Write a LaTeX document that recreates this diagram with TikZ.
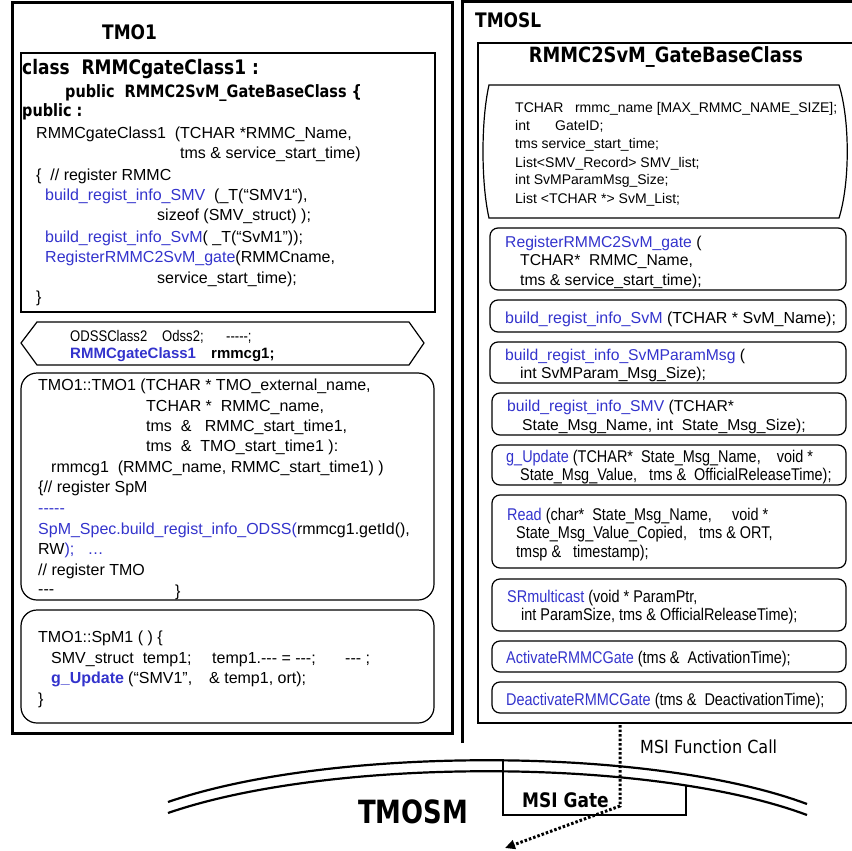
\documentclass[tikz,border=0pt]{standalone}
\usepackage{fontspec}
\setmainfont{Liberation Sans}
\newfontfamily\nfont{Liberation Sans}[FakeStretch=0.85]
\newfontfamily\hdfont{DejaVu Sans}[FakeStretch=0.85]
\newfontfamily\tmfont{DejaVu Sans}[FakeStretch=0.81]
\newfontfamily\nrfont{DejaVu Sans}[FakeStretch=0.89]
\usetikzlibrary{arrows.meta}
\definecolor{codeblue}{RGB}{51,51,204}
\newcommand\bl[1]{\textcolor{codeblue}{#1}}
\tikzset{
  txt/.style={anchor=base west, inner sep=0pt, font=\fontsize{16}{19}\selectfont},
  rtxt/.style={anchor=base west, inner sep=0pt, font=\fontsize{15.7}{18}\selectfont},
  ntxt/.style={anchor=base west, inner sep=0pt, font=\nfont\fontsize{17}{19}\selectfont},
  atxt/.style={anchor=base west, inner sep=0pt, font=\fontsize{14}{17}\selectfont},
  xtxt/.style={anchor=base west, inner sep=0pt, font=\nfont\fontsize{15.4}{17}\selectfont},
  hd/.style={anchor=base west, inner sep=0pt, font=\hdfont\bfseries\fontsize{20}{24}\selectfont},
  hdm/.style={anchor=base west, inner sep=0pt, font=\hdfont\bfseries\fontsize{17}{20}\selectfont},
  thickbox/.style={line width=3pt},
  midbox/.style={line width=2pt},
  thinbox/.style={line width=1.2pt},
  roundbox/.style={line width=1.2pt, rounded corners=16pt},
  mbox/.style={line width=1.2pt, rounded corners=8pt},
  curve/.style={line width=2.2pt},
  dotline/.style={line width=3pt, dash pattern=on 2.5pt off 2pt, -{Triangle[length=10pt,width=9pt]}},
}
\begin{document}
\begin{tikzpicture}[x=1pt,y=-1pt]
\useasboundingbox (0,0) rectangle (852,851);
% ---------- outer frames ----------
\draw[thickbox] (12,3) rectangle (452,733);
\draw[thickbox] (462,743) -- (462,2) -- (853,2);
\draw[midbox] (853,43) -- (478,43) -- (478,723) -- (853,723);
% ---------- TMO1 ----------
\node[hd] (tmo1) at (102,40) {TMO1};
\draw[midbox] (21,53) rectangle (435,312);
\node[hd] (c0) at (22,75) {class\ \ RMMCgateClass1 :};
\node[hdm] (c0b) at (65,97) {public\ \ RMMC2SvM\_GateBaseClass \{};
\node[hdm] (c0c) at (22,117) {public :};
\node[txt] (c1) at (36,138) {RMMCgateClass1\ \ (TCHAR *RMMC\_Name,};
\node[txt] (c2) at (180,158) {tms \& service\_start\_time)};
\node[txt] (c3) at (36,180) {\{\ \ // register RMMC};
\node[txt] (c4) at (45,200) {\bl{build\_regist\_info\_SMV}\ \ (\_T(“SMV1“),};
\node[txt] (c5) at (157,220) {sizeof (SMV\_struct) );};
\node[txt] (c6) at (45,242) {\bl{build\_regist\_info\_SvM}( \_T(“SvM1”));};
\node[txt] (c7) at (45,262) {\bl{RegisterRMMC2SvM\_gate}(RMMCname,};
\node[txt] (c8) at (157,283) {service\_start\_time);};
\node[txt] (c9) at (36,302) {\}};
% hexagon
\draw[thinbox] (21,343) -- (37,322) -- (409,322) -- (424,343) -- (409,365) -- (37,365) -- cycle;
\node[xtxt] (x1) at (70,341) {ODSSClass2};
\node[xtxt] (x1b) at (162,341) {Odss2;};
\node[xtxt] (x1c) at (226,341) {-{}-{}-{}-{}-;};
\node[xtxt,font=\bfseries\fontsize{15}{18}\selectfont] (x2) at (70,358) {\bl{RMMCgateClass1}};
\node[xtxt,font=\bfseries\fontsize{15}{18}\selectfont] (x3) at (211,358) {rmmcg1;};
% constructor box
\draw[roundbox] (21,373) rectangle (434,600);
\node[txt] (k1) at (38,390) {TMO1::TMO1 (TCHAR * TMO\_external\_name,};
\node[txt] (k2) at (146,411.7) {TCHAR *\ \ RMMC\_name,};
\node[txt] (k3) at (146,431.7) {tms\ \ \&\ \ \ RMMC\_start\_time1,};
\node[txt] (k4) at (146,451.7) {tms\ \ \&\ \ TMO\_start\_time1 ):};
\node[txt] (k5) at (51,472) {rmmcg1\ \ (RMMC\_name, RMMC\_start\_time1) )};
\node[txt] (k6) at (38,492.7) {\{// register SpM};
\node[txt] (k7) at (38,513) {\bl{-{}-{}-{}-{}-}};
\node[txt] (k8) at (38,534) {\bl{SpM\_Spec.build\_regist\_info\_ODSS(}rmmcg1.getId(),};
\node[txt] (k9) at (38,554) {RW\bl{);\ \ \ …}};
\node[txt] (k10) at (38,575) {// register TMO};
\node[txt] (k11) at (38,594) {-{}-{}-};
\node[txt] (k12) at (175,596) {\}};
% SpM1 box
\draw[roundbox] (21,610) rectangle (434,723);
\node[txt] (s1) at (38,642) {TMO1::SpM1 ( ) \{};
\node[txt] (s2) at (51,663) {SMV\_struct\ \ temp1;};
\node[txt] (s3) at (212,663) {temp1.-{}-{}- = -{}-{}-;};
\node[txt] (s4) at (345,663) {-{}-{}- ;};
\node[txt,font=\bfseries\fontsize{16}{19}\selectfont] (s5) at (51,683) {\bl{g\_Update}};
\node[txt] (s6) at (128,683) {(“SMV1",};
\node[txt] (s7) at (209,683) {\& temp1, ort);};
\node[txt] (s8) at (38,704) {\}};
% ---------- TMOSL ----------
\node[hd] (tmosl) at (475,28) {TMOSL};
\node[hd,anchor=base,font=\hdfont\bfseries\fontsize{21}{24}\selectfont] (gbc) at (666,63) {RMMC2SvM\_GateBaseClass};
\draw[thinbox] (489,85) -- (839,85) .. controls (850,120) and (850,183) .. (839,218) -- (489,218) .. controls (481,183) and (481,120) .. (489,85) -- cycle;
\node[atxt] (a1) at (515,112) {TCHAR\ \ \ rmmc\_name [MAX\_RMMC\_NAME\_SIZE];};
\node[atxt] (a2) at (515,130) {int};
\node[atxt] (a2b) at (555,130) {GateID;};
\node[atxt] (a3) at (515,148) {tms service\_start\_time;};
\node[atxt] (a4) at (515,167) {List<SMV\_Record> SMV\_list;};
\node[atxt] (a5) at (515,184) {int SvMParamMsg\_Size;};
\node[atxt] (a6) at (515,203) {List <TCHAR *> SvM\_List;};
% method boxes
\draw[mbox] (490,228) rectangle (846,290);
\node[rtxt] (m1a) at (505,247) {\bl{RegisterRMMC2SvM\_gate} (};
\node[rtxt] (m1b) at (520,265) {TCHAR*\ \ RMMC\_Name,};
\node[rtxt] (m1c) at (520,285) {tms \& service\_start\_time);};
\draw[mbox] (490,300) rectangle (846,332);
\node[rtxt,font=\fontsize{16}{18}\selectfont] (m2a) at (505,323) {\bl{build\_regist\_info\_SvM} (TCHAR * SvM\_Name);};
\draw[mbox] (490,342) rectangle (846,383);
\node[rtxt] (m3a) at (505,360) {\bl{build\_regist\_info\_SvMParamMsg} (};
\node[rtxt] (m3b) at (520,378) {int SvMParam\_Msg\_Size);};
\draw[mbox] (492,393) rectangle (846,435);
\node[rtxt] (m4a) at (507,411) {\bl{build\_regist\_info\_SMV} (TCHAR*};
\node[rtxt] (m4b) at (522,430) {State\_Msg\_Name, int\ \ State\_Msg\_Size);};
\draw[mbox] (492,445) rectangle (846,485);
\node[ntxt] (m5a) at (506,462) {\bl{g\_Update} (TCHAR*\ \ State\_Msg\_Name,\ \ \ \ void *};
\node[ntxt] (m5b) at (520,480) {State\_Msg\_Value,\ \ \ tms \&\ \ OfficialReleaseTime);};
\draw[mbox] (492,495) rectangle (846,568);
\node[ntxt] (m6a) at (507,520) {\bl{Read} (char*\ \ State\_Msg\_Name,\ \ \ \ \ void *};
\node[ntxt] (m6b) at (516,538) {State\_Msg\_Value\_Copied,\ \ \ tms \& ORT,};
\node[ntxt] (m6c) at (516,557) {tmsp \&\ \ \ timestamp);};
\draw[mbox] (492,579) rectangle (846,631);
\node[ntxt] (m7a) at (507,602) {\bl{SRmulticast} (void * ParamPtr,};
\node[ntxt] (m7b) at (521,620) {int ParamSize, tms \& OfficialReleaseTime);};
\draw[mbox] (492,641) rectangle (846,672);
\node[ntxt] (m8a) at (506,663) {\bl{ActivateRMMCGate} (tms \&\ \ ActivationTime);};
\draw[mbox] (492,682) rectangle (846,713);
\node[ntxt] (m9a) at (506,705) {\bl{DeactivateRMMCGate} (tms \&\ \ DeactivationTime);};
% ---------- TMOSM ----------
\draw[curve] (168,802) .. controls (330,746) and (652,746) .. (807,804);
\draw[curve] (168,813) .. controls (330,757) and (652,757) .. (807,815);
\draw[line width=1.2pt] (503,760) -- (503,815) -- (686,815) -- (686,785);
\node[anchor=base west, inner sep=0pt, font=\tmfont\bfseries\fontsize{32}{36}\selectfont] (tmosm) at (358,823) {TMOSM};
\node[hd] (gate) at (522,807) {MSI Gate};
\node[anchor=base west, inner sep=0pt, font=\nrfont\fontsize{18}{21}\selectfont] (fcall) at (640,753) {MSI Function Call};
\coordinate (callstart) at (620,725);
\coordinate (callbend) at (620,806);
\coordinate (callend) at (505,848);
\draw[dotline] (callstart) -- (callbend) -- (callend);
\end{tikzpicture}
\end{document}
